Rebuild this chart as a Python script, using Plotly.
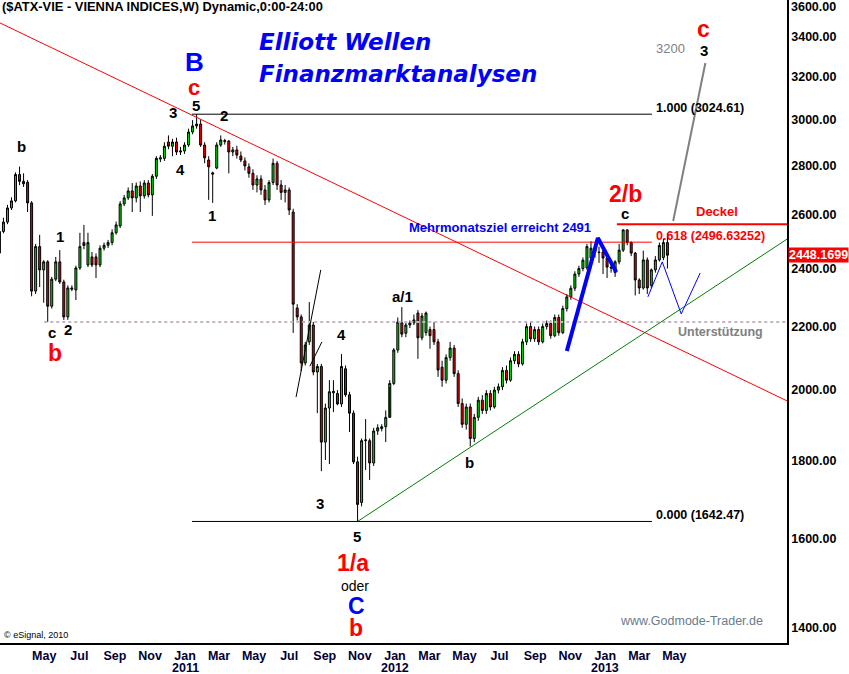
import math
import pandas as pd
import plotly.graph_objects as go

# ---------------- data (weekly candles) ----------------
start_week = "2010-02-12"
opens = [2456, 2537, 2573, 2628, 2656, 2763, 2735, 2731, 2648, 2320,
         2480, 2395, 2424, 2268, 2362, 2424, 2352, 2232, 2331, 2324,
         2402, 2495, 2413, 2442, 2442, 2413, 2474, 2485, 2495, 2532,
         2558, 2644, 2668, 2696, 2668, 2716, 2676, 2728, 2680, 2756,
         2828, 2831, 2901, 2883, 2901, 2858, 2862, 2888, 2945, 2972,
         2980, 2888, 2824, 2770, 2790, 2888, 2903, 2905, 2858, 2867,
         2841, 2820, 2795, 2768, 2720, 2745, 2700, 2660, 2730, 2810,
         2720, 2690, 2700, 2612, 2262, 2232, 2083, 2150, 2205, 2055,
         2072, 1850, 1947, 1992, 1990, 1959, 2065, 1986, 1932, 1796,
         1690, 1854, 1854, 1793, 1881, 1888, 1893, 1920, 2020, 2124,
         2212, 2178, 2205, 2212, 2245, 2163, 2180, 2190, 2190, 2150,
         2070, 2030, 2100, 2130, 2050, 1960, 1900, 1950, 1860, 1920,
         1970, 1940, 1990, 1950, 2000, 2010, 2060, 2030, 2090, 2110,
         2080, 2150, 2200, 2160, 2190, 2150, 2200, 2210, 2170, 2230,
         2180, 2260, 2300, 2330, 2380, 2400, 2402, 2438, 2474, 2460,
         2460, 2438, 2405, 2385, 2424, 2467, 2543, 2495, 2456, 2359,
         2331, 2431, 2340, 2395, 2431, 2440, 2495]
highs = [2545, 2590, 2640, 2670, 2772, 2796, 2768, 2740, 2655, 2490,
         2524, 2430, 2430, 2370, 2442, 2467, 2360, 2340, 2340, 2410,
         2532, 2562, 2532, 2460, 2455, 2485, 2495, 2505, 2545, 2575,
         2655, 2680, 2710, 2728, 2730, 2735, 2740, 2740, 2765, 2840,
         2845, 2900, 2930, 2915, 2920, 2880, 2900, 2960, 2998, 3024.61,
         3000, 2900, 2840, 2775, 2900, 2930, 2915, 2910, 2880, 2885,
         2860, 2835, 2810, 2785, 2760, 2760, 2720, 2740, 2830, 2820,
         2740, 2720, 2710, 2625, 2275, 2240, 2150, 2282, 2215, 2080,
         2080, 1960, 2030, 2030, 2000, 2111, 2075, 1995, 1940, 1810,
         1860, 1915, 1860, 1890, 1900, 1900, 1940, 2030, 2130, 2230,
         2265, 2215, 2220, 2240, 2255, 2245, 2250, 2200, 2215, 2160,
         2090, 2110, 2150, 2140, 2060, 1975, 1960, 1960, 1930, 1980,
         1985, 2000, 2000, 2010, 2020, 2070, 2075, 2100, 2120, 2120,
         2160, 2210, 2215, 2200, 2200, 2210, 2220, 2220, 2240, 2240,
         2270, 2310, 2340, 2390, 2410, 2440, 2490, 2500, 2491, 2480,
         2470, 2445, 2415, 2430, 2490, 2545, 2545, 2500, 2460, 2365,
         2465, 2440, 2400, 2445, 2495, 2510, 2530]
lows = [2440, 2530, 2565, 2620, 2650, 2719, 2712, 2612, 2302, 2310,
        2334, 2280, 2215, 2260, 2355, 2345, 2222, 2222, 2320, 2289,
        2395, 2470, 2405, 2405, 2366, 2405, 2465, 2475, 2485, 2525,
        2550, 2635, 2660, 2612, 2650, 2612, 2665, 2670, 2597, 2745,
        2815, 2820, 2870, 2840, 2845, 2845, 2850, 2880, 2935, 2960,
        2880, 2810, 2660, 2648, 2785, 2880, 2890, 2768, 2840, 2830,
        2815, 2780, 2750, 2700, 2690, 2680, 2640, 2650, 2720, 2700,
        2660, 2650, 2600, 2179, 2220, 2058, 2075, 2140, 2045, 1932,
        1771, 1801, 1790, 1935, 1955, 1950, 1980, 1878, 1790, 1642.47,
        1680, 1774, 1748, 1785, 1870, 1880, 1850, 2010, 2015, 2115,
        2165, 2165, 2195, 2205, 2096, 2155, 2170, 2128, 2140, 2040,
        2010, 2020, 2090, 2040, 1950, 1890, 1885, 1838, 1850, 1910,
        1930, 1930, 1940, 1945, 1990, 2000, 2020, 2025, 2080, 2070,
        2075, 2140, 2150, 2150, 2140, 2145, 2190, 2160, 2165, 2170,
        2175, 2250, 2290, 2320, 2370, 2390, 2395, 2400, 2440, 2420,
        2380, 2366, 2385, 2370, 2415, 2460, 2485, 2445, 2305, 2310,
        2325, 2310, 2330, 2385, 2425, 2430, 2400]
closes = [2537, 2573, 2628, 2656, 2763, 2735, 2725, 2648, 2320, 2480,
          2395, 2424, 2268, 2362, 2424, 2352, 2232, 2331, 2327, 2402,
          2480, 2484, 2495, 2413, 2413, 2474, 2485, 2495, 2532, 2562,
          2644, 2668, 2696, 2668, 2716, 2676, 2728, 2680, 2756, 2831,
          2833, 2883, 2883, 2901, 2858, 2862, 2888, 2945, 2972, 2980,
          2888, 2833, 2795, 2765, 2888, 2910, 2907, 2858, 2867, 2845,
          2824, 2799, 2768, 2720, 2745, 2700, 2660, 2730, 2810, 2720,
          2690, 2700, 2620, 2275, 2232, 2083, 2140, 2205, 2055, 2072,
          1850, 1947, 1995, 1996, 1959, 2072, 1986, 1932, 1796, 1685,
          1854, 1856, 1793, 1881, 1890, 1893, 1920, 2020, 2124, 2215,
          2175, 2205, 2212, 2222, 2163, 2235, 2245, 2170, 2150, 2061,
          2030, 2100, 2130, 2050, 1960, 1900, 1950, 1860, 1920, 1970,
          1940, 1990, 1950, 2000, 2010, 2060, 2030, 2090, 2110, 2080,
          2150, 2200, 2160, 2190, 2150, 2200, 2210, 2170, 2230, 2180,
          2260, 2300, 2330, 2380, 2400, 2430, 2480, 2474, 2460, 2458,
          2438, 2405, 2402, 2424, 2467, 2543, 2495, 2456, 2359, 2331,
          2431, 2331, 2395, 2431, 2484, 2495, 2448.17]

# analysis lines (date, price)
red_trend_x = ["2010-02-13", "2013-11-13"]
red_trend_y = [3468, 1968]
green_trend_x = ["2011-10-28", "2013-11-13"]
green_trend_y = [1642.47, 2508]
fib_x = ["2011-01-13", "2013-03-23"]
fib_levels = [3024.61, 2496.63252, 1642.47]
fib_colors = ["black", "#FF0000", "black"]
deckel_x = ["2013-01-21", "2013-11-13"]
deckel_y = 2565
support_x = ["2010-05-01", "2013-11-13"]
support_y = 2215
blue_thick_x = ["2012-10-26", "2012-12-19", "2013-01-20"]
blue_thick_y = [2121, 2512, 2387]
blue_thin_x = ["2013-03-16", "2013-04-10", "2013-05-13", "2013-06-15"]
blue_thin_y = [2300, 2424, 2242, 2384]
gray_x = ["2013-04-29", "2013-06-24"]
gray_y = [2577, 3266]
channel_a_x = ["2011-07-13", "2011-08-25"]
channel_a_y = [1979, 2395]
channel_b_x = ["2011-08-06", "2011-08-27"]
channel_b_y = [2073, 2150]

price_ticks = [1400, 1600, 1800, 2000, 2200, 2400, 2600, 2800, 3000, 3200, 3400]
month_ticks = ["2010-05-01", "2010-07-01", "2010-09-01", "2010-11-01", "2011-01-01",
               "2011-03-01", "2011-05-01", "2011-07-01", "2011-09-01", "2011-11-01",
               "2012-01-01", "2012-03-01", "2012-05-01", "2012-07-01", "2012-09-01",
               "2012-11-01", "2013-01-01", "2013-03-01", "2013-05-01"]
month_labels = ["May", "Jul", "Sep", "Nov", "Jan", "Mar", "May", "Jul", "Sep",
                "Nov", "Jan", "Mar", "May", "Jul", "Sep", "Nov", "Jan",
                "Mar", "May"]
year_ticks = ["2011-01-01", "2012-01-01", "2013-01-01"]
year_labels = ["2011", "2012", "2013"]
last_price = 2448.1699

dates = pd.date_range(start_week, periods=len(opens), freq="7D")

# ---------------- figure ----------------
W, H = 849, 674
ML, MR, MT, MB = 0, 62, 0, 31
PW, PH = W - ML - MR, H - MT - MB

fig = go.Figure()

def line(x, y, color, width=1, dash="solid"):
    fig.add_trace(go.Scatter(x=x, y=y, mode="lines", hoverinfo="skip",
                             line=dict(color=color, width=width, dash=dash),
                             showlegend=False))

line(support_x, [support_y, support_y], "#C4B4C4", 2, "dot")
line(red_trend_x, red_trend_y, "#FF0000", 1)
line(green_trend_x, green_trend_y, "#008000", 1)
for lv, col in zip(fib_levels, fib_colors):
    line(fib_x, [lv, lv], col, 1)
line(deckel_x, [deckel_y, deckel_y], "#FF0000", 2)
line(channel_a_x, channel_a_y, "black", 1)
line(channel_b_x, channel_b_y, "black", 1)

fig.add_trace(go.Candlestick(
    x=dates, open=opens, high=highs, low=lows, close=closes,
    increasing=dict(line=dict(color="black", width=1), fillcolor="#00DD00"),
    decreasing=dict(line=dict(color="black", width=1), fillcolor="#EE0000"),
    whiskerwidth=0, showlegend=False, hoverinfo="skip"))

line(blue_thick_x, blue_thick_y, "#0000FF", 4)
line(blue_thin_x, blue_thin_y, "#0000FF", 1)
line(gray_x, gray_y, "#808080", 2)

def px(x):
    return (x - ML) / PW

def py(y):
    return 1 - (y - MT) / PH

ann = []

def txt(t, x, y, size, color="black", bold=True, italic=False,
        family="Liberation Sans", xanchor="center", bg=None, xref="paper"):
    d = dict(text=t, x=px(x) if xref == "paper" else x, y=py(y),
             xref=xref, yref="paper",
             showarrow=False, xanchor=xanchor, yanchor="middle",
             font=dict(family=family, size=size, color=color,
                       weight="bold" if bold else "normal",
                       style="italic" if italic else "normal"))
    if bg:
        d["bgcolor"] = bg
        d["borderpad"] = 0
    ann.append(d)

txt("($ATX-VIE - VIENNA INDICES,W) Dynamic,0:00-24:00", 0, 7, 12.9, xanchor="left")
txt("Elliott Wellen", 257, 42, 23, "#0000FF", True, True, "DejaVu Sans", "left")
txt("Finanzmarktanalysen", 257, 74, 23, "#0000FF", True, True, "DejaVu Sans", "left")

# wave labels
txt("B", 194, 62, 26, "#0000FF")
txt("c", 194, 87, 22, "#FF0000")
txt("5", 196, 105, 15)
txt("3", 173, 113, 15)
txt("2", 224, 116, 15)
txt("4", 180, 170, 15)
txt("1", 212, 215, 15)
txt("b", 21, 147, 15)
txt("1", 60, 236, 15)
txt("c", 52, 332, 15)
txt("2", 68, 329, 15)
txt("b", 55, 353, 23, "#FF0000")
txt("4", 341, 334, 15)
txt("3", 320, 503, 15)
txt("5", 357, 536, 15)
txt("1/a", 353, 563, 23, "#FF0000")
txt("oder", 355, 586, 14, bold=False)
txt("C", 356, 606, 23, "#0000FF")
txt("b", 356, 628, 23, "#FF0000")
txt("a/1", 402, 296, 15)
txt("b", 469, 462, 15)
txt("2/b", 625, 194, 23, "#FF0000")
txt("c", 625, 214, 15)
txt("c", 703, 29, 23, "#FF0000")
txt("3", 704, 51, 15)
txt("3200", 670, 48, 13, "#808080", bold=False)

txt("1.000 (3024.61)", 654, 108, 12.5, xanchor="left")
txt("0.000 (1642.47)", 654, 515, 12.5, xanchor="left")
txt("0.618 (2496.63252)", 654, 236, 12.5, "#FF0000", xanchor="left")
txt("Deckel", 717, 211, 13, "#FF0000")
txt("Mehrmonatsziel erreicht 2491", 500, 228, 13, "#0000FF")
txt("Unterstützung", 720, 332, 12.5, "#808080")
txt("www.Godmode-Trader.de", 691, 621, 12.5, "#6A7B8C", bold=False)
txt("© eSignal, 2010", 2, 635, 9, xanchor="left", bold=False)

# axis extras
txt("3600.00", 789, 7, 12.5, xanchor="left")
txt("2448.1699", 788, 255, 12.5, "white", xanchor="left", bg="#FF0000")
for yd, yl in zip(year_ticks, year_labels):
    txt(yl, yd, 667.5, 12.5, "#000033", xref="x")

ymin = 1400 * math.exp(-15 / 667)
ymax = 1400 * math.exp(628 / 667)

fig.update_layout(
    width=W, height=H,
    margin=dict(l=ML, r=MR, t=MT, b=MB, pad=0, autoexpand=False),
    paper_bgcolor="white", plot_bgcolor="white",
    showlegend=False, annotations=ann,
    xaxis=dict(type="date", range=["2010-02-13", "2013-11-13"], automargin=False,
               rangeslider=dict(visible=False), showgrid=False, zeroline=False,
               showline=True, linecolor="black", linewidth=1.5, ticks="",
               tickvals=month_ticks, ticktext=month_labels,
               tickfont=dict(family="Liberation Sans", size=12.5, color="#000033",
                             weight="bold")),
    yaxis=dict(type="log", side="right", automargin=False,
               range=[math.log10(ymin), math.log10(ymax)],
               showgrid=False, zeroline=False, showline=True, linecolor="black",
               linewidth=1.5, ticks="",
               tickvals=price_ticks, ticktext=[f"{v:.2f}" for v in price_ticks],
               tickfont=dict(family="Liberation Sans", size=12.5, color="black",
                             weight="bold")),
)

fig.write_html("out.html",
               config={"displayModeBar": False},
               post_script="document.body.style.margin='0px';"
                           "document.body.style.padding='0px';"
                           "document.body.style.overflow='hidden';")
